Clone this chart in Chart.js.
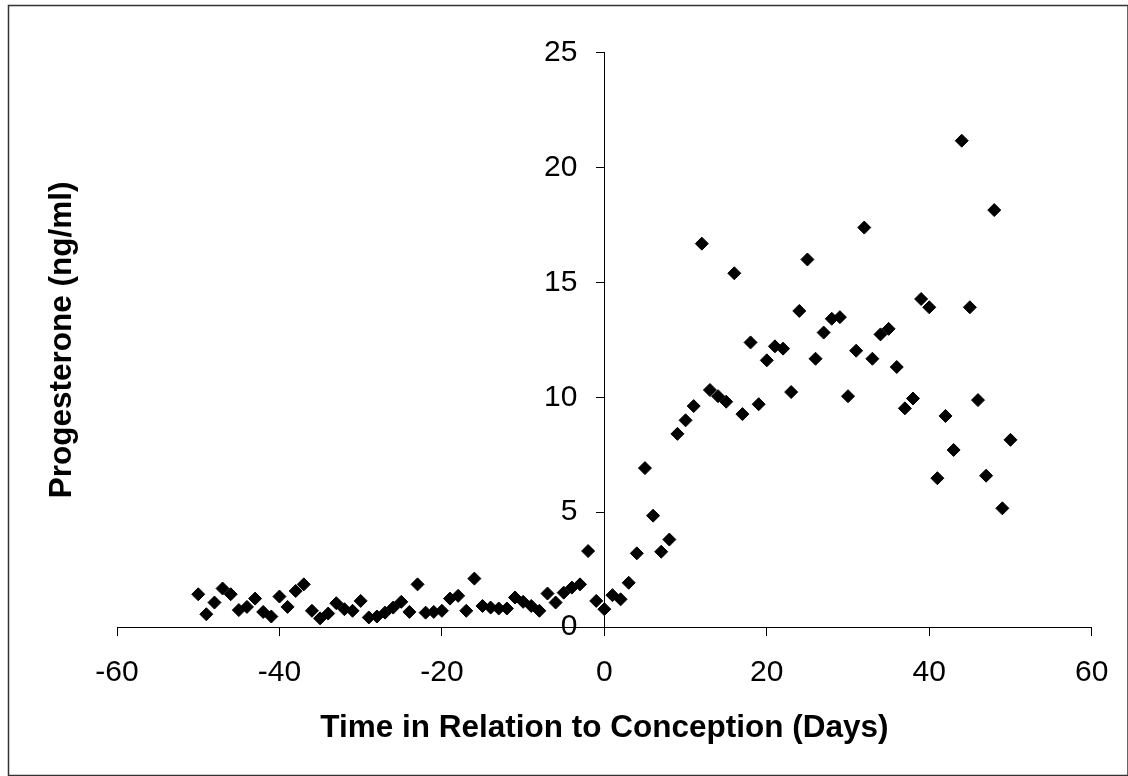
<!DOCTYPE html>
<html>
<head>
<meta charset="utf-8">
<script src="https://cdn.jsdelivr.net/npm/chart.js@4.4.1/dist/chart.umd.min.js"></script>
<style>
  html, body { margin: 0; padding: 0; background: #fff; }
  #wrap { position: relative; width: 1128px; height: 776px; }
</style>
</head>
<body>
<div id="wrap"><canvas id="chart" width="1128" height="776"></canvas></div>
<script>
const FONT = "'Liberation Sans', Arial, sans-serif";

const xTitle = 'Time in Relation to Conception (Days)';
const yTitle = 'Progesterone (ng/ml)';

const xTicks = [-60, -40, -20, 0, 20, 40, 60];
const yTicks = [0, 5, 10, 15, 20, 25];

// days relative to conception
const days = [
  -50, -49, -48, -47, -46, -45, -44, -43, -42, -41,
  -40, -39, -38, -37, -36, -35, -34, -33, -32, -31,
  -30, -29, -28, -27, -26, -25, -24, -23, -22, -21,
  -20, -19, -18, -17, -16, -15, -14, -13, -12, -11,
  -10, -9, -8, -7, -6, -5, -4, -3, -2, -1,
  0, 1, 2, 3, 4, 5, 6, 7, 8, 9,
  10, 11, 12, 13, 14, 15, 16, 17, 18, 19,
  20, 21, 22, 23, 24, 25, 26, 27, 28, 29,
  30, 31, 32, 33, 34, 35, 36, 37, 38, 39,
  40, 41, 42, 43, 44, 45, 46, 47, 48, 49,
  50
];

// progesterone (ng/ml)
const progesterone = [
  1.43, 0.56, 1.07, 1.68, 1.43, 0.74, 0.88, 1.24, 0.66, 0.46,
  1.33, 0.88, 1.57, 1.86, 0.71, 0.38, 0.59, 1.04, 0.78, 0.71,
  1.14, 0.42, 0.46, 0.63, 0.85, 1.10, 0.66, 1.86, 0.63, 0.66,
  0.71, 1.24, 1.36, 0.71, 2.11, 0.92, 0.85, 0.81, 0.81, 1.29,
  1.10, 0.92, 0.71, 1.46, 1.07, 1.50, 1.72, 1.86, 3.31, 1.14,
  0.78, 1.39, 1.21, 1.93, 3.21, 6.92, 4.85, 3.28, 3.81, 8.41,
  9.00, 9.62, 16.69, 10.32, 10.05, 9.81, 15.40, 9.27, 12.39, 9.70,
  11.61, 12.22, 12.12, 10.23, 13.76, 16.00, 11.68, 12.82, 13.42, 13.49,
  10.05, 12.03, 17.39, 11.68, 12.74, 12.98, 11.32, 9.52, 9.95, 14.28,
  13.92, 6.48, 9.19, 7.71, 21.17, 13.92, 9.88, 6.59, 18.15, 5.17,
  8.15
];

const points = days.map((d, i) => ({ x: d, y: progesterone[i] }));

// the y labels sit ~27px left of the centre axis (tick + gap), in x units
const yLabelOffset = -3.32;

// chart-area border, right and bottom edges run to the page edge
const frame = {
  id: 'frame',
  afterDraw(chart) {
    const ctx = chart.ctx;
    ctx.save();
    ctx.strokeStyle = '#333';
    ctx.lineWidth = 1.5;
    ctx.strokeRect(8.5, 5.5, 1119.5, 770);
    ctx.restore();
  }
};

const chart = new Chart(document.getElementById('chart'), {
  type: 'scatter',
  data: {
    datasets: [{
      label: 'Progesterone',
      data: points,
      pointStyle: 'rectRot',
      pointRadius: 6.5,
      backgroundColor: '#000',
      borderColor: '#000',
      borderWidth: 1
    }]
  },
  options: {
    responsive: false,
    animation: false,
    devicePixelRatio: 1,
    layout: { padding: { left: 43.2, right: 36.3, top: 52.7, bottom: 11 } },
    plugins: { legend: { display: false }, tooltip: { enabled: false } },
    scales: {
      x: {
        type: 'linear',
        position: 'bottom',
        min: -60,
        max: 60,
        afterBuildTicks: s => { s.ticks = xTicks.map(v => ({ value: v })); },
        grid: { drawOnChartArea: false, drawTicks: true, tickLength: 9, color: '#000', lineWidth: 1 },
        border: { display: true, color: '#000', width: 1 },
        ticks: { color: '#000', font: { family: FONT, size: 30 }, padding: 18.5, maxRotation: 0, autoSkip: false },
        title: { display: true, text: xTitle, color: '#000', font: { family: FONT, size: 31.5, weight: 'bold' }, padding: { top: 0, bottom: 18.1 } }
      },
      y: {
        type: 'linear',
        axis: 'y',
        position: { x: 0 },
        min: 0,
        max: 25,
        afterBuildTicks: s => { s.ticks = yTicks.map(v => ({ value: v })); },
        grid: { drawOnChartArea: false, drawTicks: true, tickLength: 8, color: '#000', lineWidth: 1 },
        border: { display: true, color: '#000', width: 1 },
        ticks: { display: false }
      },
      yLabels: {
        type: 'linear',
        axis: 'y',
        position: { x: yLabelOffset },
        min: 0,
        max: 25,
        afterBuildTicks: s => { s.ticks = yTicks.map(v => ({ value: v })); },
        grid: { display: false, drawTicks: false },
        border: { display: false },
        ticks: { color: '#000', font: { family: FONT, size: 30 }, padding: 0 }
      },
      yTitle: {
        type: 'linear',
        axis: 'y',
        position: 'left',
        display: true,
        grid: { display: false, drawTicks: false },
        border: { display: false },
        ticks: { display: false },
        title: { display: true, text: yTitle, color: '#000', font: { family: FONT, size: 31.5, weight: 'bold' }, padding: { top: 0, bottom: 36 } }
      }
    }
  },
  plugins: [frame]
});
</script>
</body>
</html>
